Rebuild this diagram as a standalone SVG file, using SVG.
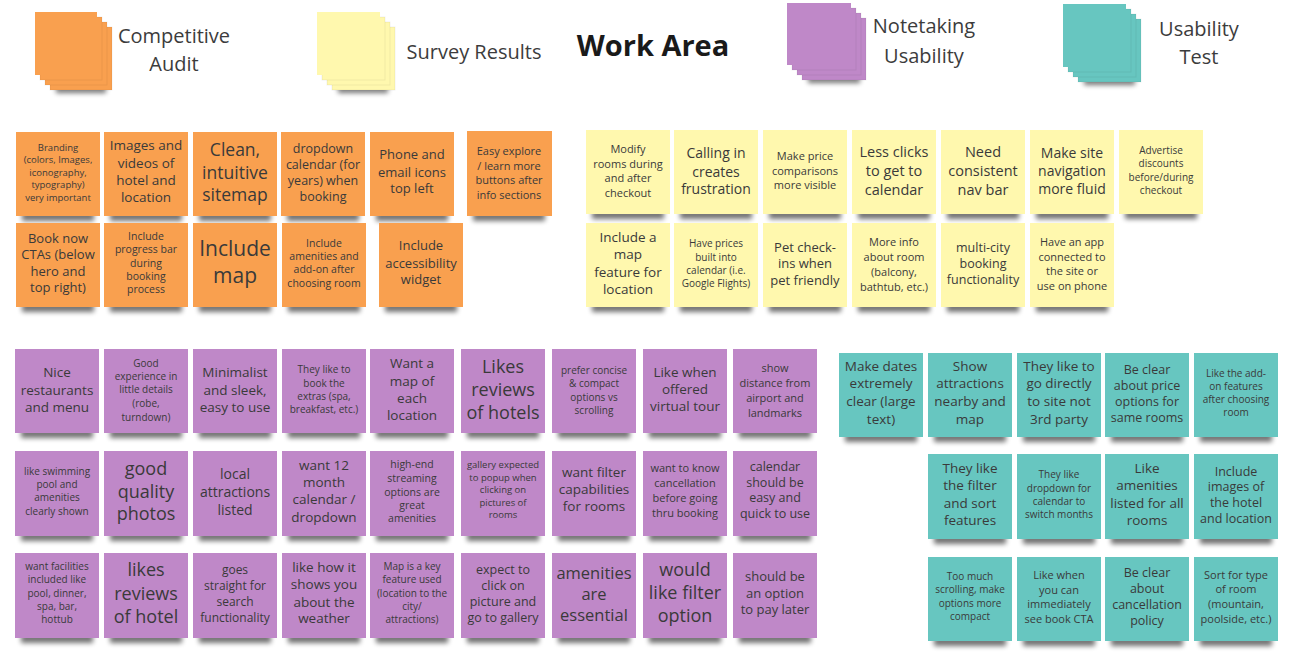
<svg xmlns="http://www.w3.org/2000/svg" width="1300" height="667" viewBox="0 0 1300 667">
<defs>
<filter id="blur" x="-20%" y="-100%" width="140%" height="300%"><feGaussianBlur stdDeviation="2.4"/></filter>
<style>
.t{font-family:"Open Sans","Liberation Sans",sans-serif;fill:#3a3a3a;text-anchor:middle;dominant-baseline:central}
.lg{font-family:"Open Sans","Liberation Sans",sans-serif;fill:#3c3c3c;text-anchor:middle;font-size:20px}
.ttl{font-family:"Open Sans","Liberation Sans",sans-serif;fill:#1a1a1a;text-anchor:middle;font-size:29px;font-weight:700}
.o{fill:#F9A04F}
.y{fill:#FFF8AE}
.p{fill:#BF88C8}
.g{fill:#67C6C0}
.sh{fill:#000;opacity:.55;filter:url(#blur);transform:translateY(3px)}
.st{stroke:#000;stroke-opacity:.06;stroke-width:1}
</style>
</defs>
<rect width="1300" height="667" fill="#ffffff"/>

<!-- Legend -->
<g id="legend-competitive">
<rect class="sh" x="56" y="84" width="50" height="6"/>
<rect class="o st" x="50" y="27" width="62" height="63"/>
<rect class="o st" x="45" y="22" width="62" height="63"/>
<rect class="o st" x="40" y="17" width="62" height="63"/>
<rect class="o" x="35" y="12" width="62" height="63"/>
<text class="lg" x="174" y="43">Competitive</text>
<text class="lg" x="174" y="71">Audit</text>
</g>
<g id="legend-survey">
<rect class="sh" x="338" y="84" width="50" height="6"/>
<rect class="y st" x="332" y="27" width="63" height="63"/>
<rect class="y st" x="327" y="22" width="63" height="63"/>
<rect class="y st" x="322" y="17" width="63" height="63"/>
<rect class="y" x="317" y="12" width="63" height="63"/>
<text class="lg" x="474" y="59">Survey Results</text>
</g>
<g id="title"><text class="ttl" x="653" y="56">Work Area</text></g>
<g id="legend-notetaking">
<rect class="sh" x="808" y="74" width="52" height="6"/>
<rect class="p st" x="802" y="18" width="64" height="62"/>
<rect class="p st" x="797" y="13" width="64" height="62"/>
<rect class="p st" x="792" y="8" width="64" height="62"/>
<rect class="p" x="787" y="3" width="64" height="62"/>
<text class="lg" x="924" y="33">Notetaking</text>
<text class="lg" x="924" y="63">Usability</text>
</g>
<g id="legend-usability">
<rect class="sh" x="1084" y="76" width="51" height="6"/>
<rect class="g st" x="1078" y="19" width="63" height="63"/>
<rect class="g st" x="1073" y="14" width="63" height="63"/>
<rect class="g st" x="1068" y="9" width="63" height="63"/>
<rect class="g" x="1063" y="4" width="63" height="63"/>
<text class="lg" x="1199" y="36">Usability</text>
<text class="lg" x="1199" y="64">Test</text>
</g>

<!-- Competitive Audit notes -->
<g id="ca1"><rect class="sh" x="22" y="209" width="72" height="9"/><rect class="o" x="16" y="132" width="84" height="84"/>
<text class="t" font-size="9.5"><tspan x="58" y="147">Branding</tspan><tspan x="58" y="159">(colors, Images,</tspan><tspan x="58" y="172">iconography,</tspan><tspan x="58" y="184">typography)</tspan><tspan x="58" y="197">very important</tspan></text></g>
<g id="ca2"><rect class="sh" x="110" y="209" width="72" height="9"/><rect class="o" x="104" y="132" width="84" height="84"/>
<text class="t" font-size="13.5"><tspan x="146" y="145">Images and</tspan><tspan x="146" y="163">videos of</tspan><tspan x="146" y="180">hotel and</tspan><tspan x="146" y="197">location</tspan></text></g>
<g id="ca3"><rect class="sh" x="199" y="209" width="72" height="9"/><rect class="o" x="193" y="132" width="84" height="84"/>
<text class="t" font-size="17.5"><tspan x="235" y="149">Clean,</tspan><tspan x="235" y="172">intuitive</tspan><tspan x="235" y="194">sitemap</tspan></text></g>
<g id="ca4"><rect class="sh" x="287" y="209" width="72" height="9"/><rect class="o" x="281" y="132" width="84" height="84"/>
<text class="t" font-size="12.5"><tspan x="323" y="148">dropdown</tspan><tspan x="323" y="164">calendar (for</tspan><tspan x="323" y="180">years) when</tspan><tspan x="323" y="196">booking</tspan></text></g>
<g id="ca5"><rect class="sh" x="376" y="209" width="72" height="9"/><rect class="o" x="370" y="132" width="84" height="84"/>
<text class="t" font-size="13"><tspan x="412" y="154">Phone and</tspan><tspan x="412" y="172">email icons</tspan><tspan x="412" y="188">top left</tspan></text></g>
<g id="ca6"><rect class="sh" x="473" y="209" width="72" height="9"/><rect class="o" x="467" y="131" width="85" height="85"/>
<text class="t" font-size="11"><tspan x="509" y="150">Easy explore</tspan><tspan x="509" y="165">/ learn more</tspan><tspan x="509" y="179">buttons after</tspan><tspan x="509" y="194">info sections</tspan></text></g>
<g id="ca7"><rect class="sh" x="22" y="300" width="72" height="9"/><rect class="o" x="16" y="223" width="84" height="84"/>
<text class="t" font-size="13"><tspan x="58" y="238">Book now</tspan><tspan x="58" y="254">CTAs (below</tspan><tspan x="58" y="271">hero and</tspan><tspan x="58" y="287">top right)</tspan></text></g>
<g id="ca8"><rect class="sh" x="110" y="300" width="72" height="9"/><rect class="o" x="104" y="223" width="84" height="84"/>
<text class="t" font-size="10.5"><tspan x="146" y="236">Include</tspan><tspan x="146" y="249">progress bar</tspan><tspan x="146" y="263">during</tspan><tspan x="146" y="276">booking</tspan><tspan x="146" y="289">process</tspan></text></g>
<g id="ca9"><rect class="sh" x="199" y="300" width="72" height="9"/><rect class="o" x="193" y="223" width="84" height="84"/>
<text class="t" font-size="21"><tspan x="235" y="248">Include</tspan><tspan x="235" y="275">map</tspan></text></g>
<g id="ca10"><rect class="sh" x="288" y="300" width="72" height="9"/><rect class="o" x="282" y="223" width="84" height="84"/>
<text class="t" font-size="10.5"><tspan x="324" y="243">Include</tspan><tspan x="324" y="256">amenities and</tspan><tspan x="324" y="269">add-on after</tspan><tspan x="324" y="283">choosing room</tspan></text></g>
<g id="ca11"><rect class="sh" x="385" y="300" width="72" height="9"/><rect class="o" x="379" y="223" width="84" height="84"/>
<text class="t" font-size="13"><tspan x="421" y="245">Include</tspan><tspan x="421" y="263">accessibility</tspan><tspan x="421" y="279">widget</tspan></text></g>

<!-- Survey Results notes -->
<g id="sr1"><rect class="sh" x="592" y="207" width="72" height="9"/><rect class="y" x="586" y="130" width="84" height="84"/>
<text class="t" font-size="11"><tspan x="628" y="148">Modify</tspan><tspan x="628" y="163">rooms during</tspan><tspan x="628" y="177">and after</tspan><tspan x="628" y="192">checkout</tspan></text></g>
<g id="sr2"><rect class="sh" x="680" y="207" width="72" height="9"/><rect class="y" x="674" y="130" width="84" height="84"/>
<text class="t" font-size="14"><tspan x="716" y="152">Calling in</tspan><tspan x="716" y="171">creates</tspan><tspan x="716" y="188">frustration</tspan></text></g>
<g id="sr3"><rect class="sh" x="769" y="207" width="72" height="9"/><rect class="y" x="763" y="130" width="84" height="84"/>
<text class="t" font-size="11"><tspan x="805" y="155">Make price</tspan><tspan x="805" y="170">comparisons</tspan><tspan x="805" y="184">more visible</tspan></text></g>
<g id="sr4"><rect class="sh" x="858" y="207" width="72" height="9"/><rect class="y" x="852" y="130" width="84" height="84"/>
<text class="t" font-size="14.5"><tspan x="894" y="151">Less clicks</tspan><tspan x="894" y="170">to get to</tspan><tspan x="894" y="189">calendar</tspan></text></g>
<g id="sr5"><rect class="sh" x="947" y="207" width="72" height="9"/><rect class="y" x="941" y="130" width="84" height="84"/>
<text class="t" font-size="14.5"><tspan x="983" y="151">Need</tspan><tspan x="983" y="170">consistent</tspan><tspan x="983" y="189">nav bar</tspan></text></g>
<g id="sr6"><rect class="sh" x="1036" y="207" width="72" height="9"/><rect class="y" x="1030" y="130" width="84" height="84"/>
<text class="t" font-size="14"><tspan x="1072" y="152">Make site</tspan><tspan x="1072" y="170">navigation</tspan><tspan x="1072" y="188">more fluid</tspan></text></g>
<g id="sr7"><rect class="sh" x="1125" y="207" width="72" height="9"/><rect class="y" x="1119" y="130" width="84" height="84"/>
<text class="t" font-size="10"><tspan x="1161" y="150">Advertise</tspan><tspan x="1161" y="163">discounts</tspan><tspan x="1161" y="177">before/during</tspan><tspan x="1161" y="190">checkout</tspan></text></g>
<g id="sr8"><rect class="sh" x="592" y="300" width="72" height="9"/><rect class="y" x="586" y="223" width="84" height="84"/>
<text class="t" font-size="13.5"><tspan x="628" y="237">Include a</tspan><tspan x="628" y="254">map</tspan><tspan x="628" y="272">feature for</tspan><tspan x="628" y="289">location</tspan></text></g>
<g id="sr9"><rect class="sh" x="680" y="300" width="72" height="9"/><rect class="y" x="674" y="223" width="84" height="84"/>
<text class="t" font-size="10"><tspan x="716" y="243">Have prices</tspan><tspan x="716" y="257">built into</tspan><tspan x="716" y="270">calendar (i.e.</tspan><tspan x="716" y="283">Google Flights)</tspan></text></g>
<g id="sr10"><rect class="sh" x="769" y="300" width="72" height="9"/><rect class="y" x="763" y="223" width="84" height="84"/>
<text class="t" font-size="13"><tspan x="805" y="247">Pet check-</tspan><tspan x="805" y="263">ins when</tspan><tspan x="805" y="280">pet friendly</tspan></text></g>
<g id="sr11"><rect class="sh" x="858" y="300" width="72" height="9"/><rect class="y" x="852" y="223" width="84" height="84"/>
<text class="t" font-size="11"><tspan x="894" y="241">More info</tspan><tspan x="894" y="256">about room</tspan><tspan x="894" y="271">(balcony,</tspan><tspan x="894" y="286">bathtub, etc.)</tspan></text></g>
<g id="sr12"><rect class="sh" x="947" y="300" width="72" height="9"/><rect class="y" x="941" y="223" width="84" height="84"/>
<text class="t" font-size="12.5"><tspan x="983" y="247">multi-city</tspan><tspan x="983" y="263">booking</tspan><tspan x="983" y="279">functionality</tspan></text></g>
<g id="sr13"><rect class="sh" x="1036" y="300" width="72" height="9"/><rect class="y" x="1030" y="223" width="84" height="84"/>
<text class="t" font-size="11"><tspan x="1072" y="241">Have an app</tspan><tspan x="1072" y="256">connected to</tspan><tspan x="1072" y="270">the site or</tspan><tspan x="1072" y="285">use on phone</tspan></text></g>

<!-- Notetaking Usability notes -->
<g id="nu1"><rect class="sh" x="21" y="426" width="72" height="9"/><rect class="p" x="15" y="349" width="84" height="84"/>
<text class="t" font-size="13.5"><tspan x="57" y="372">Nice</tspan><tspan x="57" y="390">restaurants</tspan><tspan x="57" y="407">and menu</tspan></text></g>
<g id="nu2"><rect class="sh" x="110" y="426" width="72" height="9"/><rect class="p" x="104" y="349" width="84" height="84"/>
<text class="t" font-size="10"><tspan x="146" y="363">Good</tspan><tspan x="146" y="376">experience in</tspan><tspan x="146" y="389">little details</tspan><tspan x="146" y="403">(robe,</tspan><tspan x="146" y="417">turndown)</tspan></text></g>
<g id="nu3"><rect class="sh" x="199" y="426" width="72" height="9"/><rect class="p" x="193" y="349" width="84" height="84"/>
<text class="t" font-size="13.5"><tspan x="235" y="372">Minimalist</tspan><tspan x="235" y="390">and sleek,</tspan><tspan x="235" y="407">easy to use</tspan></text></g>
<g id="nu4"><rect class="sh" x="288" y="426" width="72" height="9"/><rect class="p" x="282" y="349" width="84" height="84"/>
<text class="t" font-size="10"><tspan x="324" y="369">They like to</tspan><tspan x="324" y="383">book the</tspan><tspan x="324" y="396">extras (spa,</tspan><tspan x="324" y="409">breakfast, etc.)</tspan></text></g>
<g id="nu5"><rect class="sh" x="376" y="426" width="72" height="9"/><rect class="p" x="370" y="349" width="84" height="84"/>
<text class="t" font-size="13.5"><tspan x="412" y="363">Want a</tspan><tspan x="412" y="381">map of</tspan><tspan x="412" y="398">each</tspan><tspan x="412" y="415">location</tspan></text></g>
<g id="nu6"><rect class="sh" x="467" y="426" width="72" height="9"/><rect class="p" x="461" y="349" width="84" height="84"/>
<text class="t" font-size="18"><tspan x="503" y="366">Likes</tspan><tspan x="503" y="389">reviews</tspan><tspan x="503" y="412">of hotels</tspan></text></g>
<g id="nu7"><rect class="sh" x="558" y="426" width="72" height="9"/><rect class="p" x="552" y="349" width="84" height="84"/>
<text class="t" font-size="10"><tspan x="594" y="370">prefer concise</tspan><tspan x="594" y="383">&amp; compact</tspan><tspan x="594" y="397">options vs</tspan><tspan x="594" y="410">scrolling</tspan></text></g>
<g id="nu8"><rect class="sh" x="649" y="426" width="72" height="9"/><rect class="p" x="643" y="349" width="84" height="84"/>
<text class="t" font-size="13.5"><tspan x="685" y="372">Like when</tspan><tspan x="685" y="389">offered</tspan><tspan x="685" y="406">virtual tour</tspan></text></g>
<g id="nu9"><rect class="sh" x="739" y="426" width="72" height="9"/><rect class="p" x="733" y="349" width="84" height="84"/>
<text class="t" font-size="11"><tspan x="775" y="367">show</tspan><tspan x="775" y="382">distance from</tspan><tspan x="775" y="397">airport and</tspan><tspan x="775" y="412">landmarks</tspan></text></g>

<g id="nu10"><rect class="sh" x="21" y="529" width="72" height="9"/><rect class="p" x="15" y="451" width="84" height="85"/>
<text class="t" font-size="10"><tspan x="57" y="471">like swimming</tspan><tspan x="57" y="484">pool and</tspan><tspan x="57" y="497">amenities</tspan><tspan x="57" y="511">clearly shown</tspan></text></g>
<g id="nu11"><rect class="sh" x="110" y="529" width="72" height="9"/><rect class="p" x="104" y="451" width="84" height="85"/>
<text class="t" font-size="18"><tspan x="146" y="468">good</tspan><tspan x="146" y="491">quality</tspan><tspan x="146" y="513">photos</tspan></text></g>
<g id="nu12"><rect class="sh" x="199" y="529" width="72" height="9"/><rect class="p" x="193" y="451" width="84" height="85"/>
<text class="t" font-size="14"><tspan x="235" y="473">local</tspan><tspan x="235" y="491">attractions</tspan><tspan x="235" y="509">listed</tspan></text></g>
<g id="nu13"><rect class="sh" x="288" y="529" width="72" height="9"/><rect class="p" x="282" y="451" width="84" height="85"/>
<text class="t" font-size="13.5"><tspan x="324" y="465">want 12</tspan><tspan x="324" y="482">month</tspan><tspan x="324" y="499">calendar /</tspan><tspan x="324" y="517">dropdown</tspan></text></g>
<g id="nu14"><rect class="sh" x="376" y="529" width="72" height="9"/><rect class="p" x="370" y="451" width="84" height="85"/>
<text class="t" font-size="10.5"><tspan x="412" y="464">high-end</tspan><tspan x="412" y="478">streaming</tspan><tspan x="412" y="492">options are</tspan><tspan x="412" y="505">great</tspan><tspan x="412" y="518">amenities</tspan></text></g>
<g id="nu15"><rect class="sh" x="467" y="529" width="72" height="9"/><rect class="p" x="461" y="451" width="84" height="85"/>
<text class="t" font-size="9.5"><tspan x="503" y="464">gallery expected</tspan><tspan x="503" y="477">to popup when</tspan><tspan x="503" y="489">clicking on</tspan><tspan x="503" y="502">pictures of</tspan><tspan x="503" y="514">rooms</tspan></text></g>
<g id="nu16"><rect class="sh" x="558" y="529" width="72" height="9"/><rect class="p" x="552" y="451" width="84" height="85"/>
<text class="t" font-size="13.5"><tspan x="594" y="472">want filter</tspan><tspan x="594" y="489">capabilities</tspan><tspan x="594" y="506">for rooms</tspan></text></g>
<g id="nu17"><rect class="sh" x="649" y="529" width="72" height="9"/><rect class="p" x="643" y="451" width="84" height="85"/>
<text class="t" font-size="11"><tspan x="685" y="467">want to know</tspan><tspan x="685" y="482">cancellation</tspan><tspan x="685" y="497">before going</tspan><tspan x="685" y="512">thru booking</tspan></text></g>
<g id="nu18"><rect class="sh" x="739" y="529" width="72" height="9"/><rect class="p" x="733" y="451" width="84" height="85"/>
<text class="t" font-size="12.5"><tspan x="775" y="466">calendar</tspan><tspan x="775" y="482">should be</tspan><tspan x="775" y="497">easy and</tspan><tspan x="775" y="513">quick to use</tspan></text></g>

<g id="nu19"><rect class="sh" x="21" y="631" width="72" height="9"/><rect class="p" x="15" y="553" width="84" height="85"/>
<text class="t" font-size="10"><tspan x="57" y="566">want facilities</tspan><tspan x="57" y="579">included like</tspan><tspan x="57" y="593">pool, dinner,</tspan><tspan x="57" y="606">spa, bar,</tspan><tspan x="57" y="619">hottub</tspan></text></g>
<g id="nu20"><rect class="sh" x="110" y="631" width="72" height="9"/><rect class="p" x="104" y="553" width="84" height="85"/>
<text class="t" font-size="18"><tspan x="146" y="569">likes</tspan><tspan x="146" y="593">reviews</tspan><tspan x="146" y="616">of hotel</tspan></text></g>
<g id="nu21"><rect class="sh" x="199" y="631" width="72" height="9"/><rect class="p" x="193" y="553" width="84" height="85"/>
<text class="t" font-size="12"><tspan x="235" y="569">goes</tspan><tspan x="235" y="585">straight for</tspan><tspan x="235" y="601">search</tspan><tspan x="235" y="617">functionality</tspan></text></g>
<g id="nu22"><rect class="sh" x="288" y="631" width="72" height="9"/><rect class="p" x="282" y="553" width="84" height="85"/>
<text class="t" font-size="13.5"><tspan x="324" y="567">like how it</tspan><tspan x="324" y="584">shows you</tspan><tspan x="324" y="602">about the</tspan><tspan x="324" y="618">weather</tspan></text></g>
<g id="nu23"><rect class="sh" x="376" y="631" width="72" height="9"/><rect class="p" x="370" y="553" width="84" height="85"/>
<text class="t" font-size="10"><tspan x="412" y="566">Map is a key</tspan><tspan x="412" y="579">feature used</tspan><tspan x="412" y="593">(location to the</tspan><tspan x="412" y="606">city/</tspan><tspan x="412" y="619">attractions)</tspan></text></g>
<g id="nu24"><rect class="sh" x="467" y="631" width="72" height="9"/><rect class="p" x="461" y="553" width="84" height="85"/>
<text class="t" font-size="12.5"><tspan x="503" y="569">expect to</tspan><tspan x="503" y="585">click on</tspan><tspan x="503" y="601">picture and</tspan><tspan x="503" y="617">go to gallery</tspan></text></g>
<g id="nu25"><rect class="sh" x="558" y="631" width="72" height="9"/><rect class="p" x="552" y="553" width="84" height="85"/>
<text class="t" font-size="16.5"><tspan x="594" y="572">amenities</tspan><tspan x="594" y="593">are</tspan><tspan x="594" y="614">essential</tspan></text></g>
<g id="nu26"><rect class="sh" x="649" y="631" width="72" height="9"/><rect class="p" x="643" y="553" width="84" height="85"/>
<text class="t" font-size="18"><tspan x="685" y="569">would</tspan><tspan x="685" y="592">like filter</tspan><tspan x="685" y="615">option</tspan></text></g>
<g id="nu27"><rect class="sh" x="739" y="631" width="72" height="9"/><rect class="p" x="733" y="553" width="84" height="85"/>
<text class="t" font-size="13"><tspan x="775" y="576">should be</tspan><tspan x="775" y="593">an option</tspan><tspan x="775" y="609">to pay later</tspan></text></g>

<!-- Usability Test notes -->
<g id="ut1"><rect class="sh" x="845" y="430" width="72" height="9"/><rect class="g" x="839" y="353" width="84" height="84"/>
<text class="t" font-size="13.5"><tspan x="881" y="366">Make dates</tspan><tspan x="881" y="383">extremely</tspan><tspan x="881" y="401">clear (large</tspan><tspan x="881" y="419">text)</tspan></text></g>
<g id="ut2"><rect class="sh" x="934" y="430" width="72" height="9"/><rect class="g" x="928" y="353" width="84" height="84"/>
<text class="t" font-size="13.5"><tspan x="970" y="366">Show</tspan><tspan x="970" y="383">attractions</tspan><tspan x="970" y="401">nearby and</tspan><tspan x="970" y="419">map</tspan></text></g>
<g id="ut3"><rect class="sh" x="1023" y="430" width="72" height="9"/><rect class="g" x="1017" y="353" width="84" height="84"/>
<text class="t" font-size="13.5"><tspan x="1059" y="366">They like to</tspan><tspan x="1059" y="383">go directly</tspan><tspan x="1059" y="401">to site not</tspan><tspan x="1059" y="419">3rd party</tspan></text></g>
<g id="ut4"><rect class="sh" x="1111" y="430" width="72" height="9"/><rect class="g" x="1105" y="353" width="84" height="84"/>
<text class="t" font-size="12.5"><tspan x="1147" y="369">Be clear</tspan><tspan x="1147" y="385">about price</tspan><tspan x="1147" y="401">options for</tspan><tspan x="1147" y="417">same rooms</tspan></text></g>
<g id="ut5"><rect class="sh" x="1200" y="430" width="72" height="9"/><rect class="g" x="1194" y="353" width="84" height="84"/>
<text class="t" font-size="10"><tspan x="1236" y="373">Like the add-</tspan><tspan x="1236" y="386">on features</tspan><tspan x="1236" y="399">after choosing</tspan><tspan x="1236" y="412">room</tspan></text></g>
<g id="ut6"><rect class="sh" x="934" y="532" width="72" height="9"/><rect class="g" x="928" y="454" width="84" height="85"/>
<text class="t" font-size="13.5"><tspan x="970" y="468">They like</tspan><tspan x="970" y="485">the filter</tspan><tspan x="970" y="503">and sort</tspan><tspan x="970" y="520">features</tspan></text></g>
<g id="ut7"><rect class="sh" x="1023" y="532" width="72" height="9"/><rect class="g" x="1017" y="454" width="84" height="85"/>
<text class="t" font-size="10"><tspan x="1059" y="474">They like</tspan><tspan x="1059" y="488">dropdown for</tspan><tspan x="1059" y="501">calendar to</tspan><tspan x="1059" y="514">switch months</tspan></text></g>
<g id="ut8"><rect class="sh" x="1111" y="532" width="72" height="9"/><rect class="g" x="1105" y="454" width="84" height="85"/>
<text class="t" font-size="13.5"><tspan x="1147" y="468">Like</tspan><tspan x="1147" y="485">amenities</tspan><tspan x="1147" y="503">listed for all</tspan><tspan x="1147" y="520">rooms</tspan></text></g>
<g id="ut9"><rect class="sh" x="1200" y="532" width="72" height="9"/><rect class="g" x="1194" y="454" width="84" height="85"/>
<text class="t" font-size="12.5"><tspan x="1236" y="471">Include</tspan><tspan x="1236" y="486">images of</tspan><tspan x="1236" y="502">the hotel</tspan><tspan x="1236" y="518">and location</tspan></text></g>
<g id="ut10"><rect class="sh" x="934" y="634" width="72" height="9"/><rect class="g" x="928" y="557" width="84" height="84"/>
<text class="t" font-size="10"><tspan x="970" y="576">Too much</tspan><tspan x="970" y="589">scrolling, make</tspan><tspan x="970" y="603">options more</tspan><tspan x="970" y="616">compact</tspan></text></g>
<g id="ut11"><rect class="sh" x="1023" y="634" width="72" height="9"/><rect class="g" x="1017" y="557" width="84" height="84"/>
<text class="t" font-size="11"><tspan x="1059" y="574">Like when</tspan><tspan x="1059" y="589">you can</tspan><tspan x="1059" y="603">immediately</tspan><tspan x="1059" y="618">see book CTA</tspan></text></g>
<g id="ut12"><rect class="sh" x="1111" y="634" width="72" height="9"/><rect class="g" x="1105" y="557" width="84" height="84"/>
<text class="t" font-size="12.5"><tspan x="1147" y="572">Be clear</tspan><tspan x="1147" y="588">about</tspan><tspan x="1147" y="604">cancellation</tspan><tspan x="1147" y="620">policy</tspan></text></g>
<g id="ut13"><rect class="sh" x="1200" y="634" width="72" height="9"/><rect class="g" x="1194" y="557" width="84" height="84"/>
<text class="t" font-size="11"><tspan x="1236" y="574">Sort for type</tspan><tspan x="1236" y="588">of room</tspan><tspan x="1236" y="603">(mountain,</tspan><tspan x="1236" y="618">poolside, etc.)</tspan></text></g>

<g id="connectors"></g>
</svg>
